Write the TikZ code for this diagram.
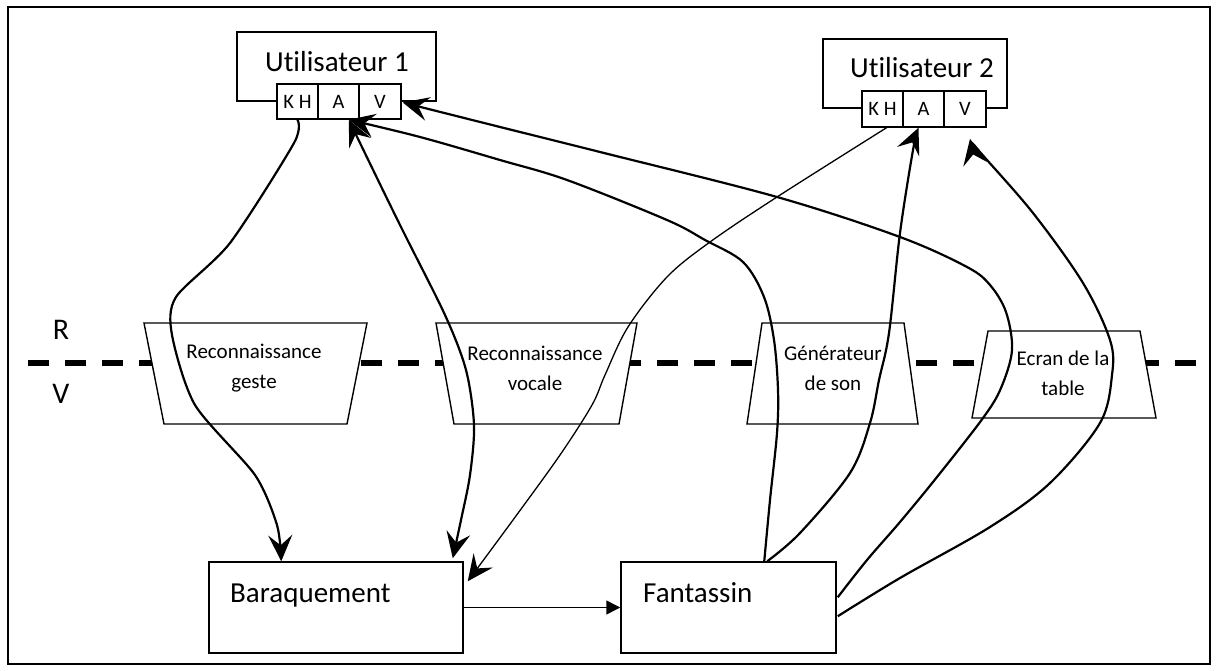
\documentclass[tikz,border=0pt]{standalone}
\usepackage{fontspec}
\setmainfont{Carlito}[Ligatures=NoCommon]
\usetikzlibrary{arrows.meta,calc}
\begin{document}
\begin{tikzpicture}[x=1pt,y=-1pt,
  >={Stealth[length=26pt,width=24pt,inset=10pt]},
  frame/.style={draw,line width=1.6pt},
  ubox/.style={draw,line width=1.5pt,fill=white,inner sep=0pt,minimum height=69pt},
  cell/.style={draw,line width=1.5pt,fill=white,inner sep=0pt,minimum height=35pt,minimum width=41pt,font=\fontsize{20.5}{24}\selectfont},
  bigtext/.style={inner sep=0pt,font=\fontsize{29}{34}\selectfont},
  objbox/.style={draw,line width=1.5pt,fill=white,inner sep=0pt,minimum height=91pt},
  trap/.style={draw,line width=1.4pt,fill=white},
  traptext/.style={inner sep=0pt,align=center,font=\fontsize{21}{30}\selectfont},
  rvline/.style={line width=5.5pt,dash pattern=on 21pt off 16pt},
  rvlabel/.style={inner sep=0pt,font=\fontsize{30}{34}\selectfont},
  link/.style={line width=2.2pt},
  thinlink/.style={line width=1.3pt},
  flow/.style={line width=1.5pt,-{Triangle[length=14pt,width=14pt]}}
]
\useasboundingbox (0,0) rectangle (1218,671);
\draw[frame] (8,7) rectangle (1210,664);

% R / V separation
\coordinate (rvL) at (28,363);
\coordinate (rvR) at (1200,363);
\draw[rvline] (rvL) -- (rvR);
\node[rvlabel] (lblR) at (61,330) {R};
\node[rvlabel] (lblV) at (61,394) {V};

% devices (trapezoids)
\draw[trap] (144,323) -- (367,323) -- (347,424) -- (164,424) -- cycle;
\node[traptext] (t1) at (254,368) {Reconnaissance\\geste};
\draw[trap] (436,323) -- (637,323) -- (619,424) -- (454,424) -- cycle;
\node[traptext] (t2) at (535,368) {Reconnaissance\\vocale};
\draw[trap] (762,323) -- (904,323) -- (918,424) -- (747,424) -- cycle;
\node[traptext] (t3) at (833,368) {Générateur\\de son};
\draw[trap] (988,331) -- (1140,331) -- (1156,418) -- (972,418) -- cycle;
\node[traptext] (t4) at (1063,373) {Ecran de la\\table};

% users
\node[ubox,minimum width=199pt] (u1) at (336.5,66.5) {};
\node[bigtext,anchor=base] (u1t) at (337,72) {Utilisateur 1};
\node[cell] (u1kh) at (297.5,101.5) {K H};
\node[cell] (u1a) at (338.5,101.5) {A};
\node[cell,minimum width=42pt] (u1v) at (380,101.5) {V};

\node[ubox,minimum width=184pt] (u2) at (915,73.5) {};
\node[bigtext,anchor=base] (u2t) at (922,78) {Utilisateur 2};
\node[cell,minimum height=36pt] (u2kh) at (882.5,109) {K H};
\node[cell,minimum height=36pt] (u2a) at (923.5,109) {A};
\node[cell,minimum height=36pt,minimum width=42pt] (u2v) at (965,109) {V};

% virtual objects
\node[objbox,minimum width=254pt] (bar) at (336,607.5) {};
\node[bigtext,anchor=base west] (bart) at (230,602) {Baraquement};
\node[objbox,minimum width=215pt] (fan) at (728.5,607.5) {};
\node[bigtext,anchor=base west] (fant) at (643,602) {Fantassin};

% anchor points
\coordinate (u1aIn) at ($(u1a.south east)+(-11,0)$);
\coordinate (u1vIn) at ($(u1v.east)+(1,1)$);
\coordinate (u2khOut) at ($(u2kh.south)+(4,0)$);
\coordinate (u2aIn) at ($(u2a.south)+(-5,0)$);
\coordinate (u2vIn) at ($(u2v.south)+(5,11)$);
\coordinate (barIn1) at ($(bar.north west)+(73,0)$);
\coordinate (barIn2) at ($(bar.north east)+(-11,-3)$);
\coordinate (barIn3) at ($(bar.north east)+(4,20)$);
\coordinate (fanOut1) at ($(fan.north west)+(144,0)$);
\coordinate (fanOut2) at ($(fan.north west)+(147,0)$);
\coordinate (fanOut3) at ($(fan.north east)+(1,36)$);
\coordinate (fanOut4) at ($(fan.north east)+(1,55)$);

% user 1 gesture -> barracks
\draw[link,->] plot[smooth,tension=0.45] coordinates {(u1kh.south) (294,143) (230,243) (176,297) (172,335) (195,405) (255,475) (277,525) (barIn1)};
% user 1 audio <-> barracks
\draw[link,<->] plot[smooth,tension=0.5] coordinates {(u1aIn) (400,225) (445,315) (466,370) (474,425) (470,475) (461,520) (barIn2)};
% user 2 gesture -> barracks (thin)
\draw[thinlink,->] plot[smooth,tension=0.55] coordinates {(u2khOut) (777,197) (710,242) (667,277) (628,327) (605,375) (592,405) (560,455) (513,520) (barIn3)};
% barracks -> infantry
\draw[flow] (bar.east) -- (fan.west);
% infantry -> user 1 audio
\draw[link,->] plot[smooth,tension=0.55] coordinates {(fanOut1) (770,500) (777,433) (778,390) (774,340) (764,297) (743,262) (705,240) (667,220) (567,180) (500,160) (420,137) (u1aIn)};
% infantry -> user 1 visual
\draw[link,->] plot[smooth,tension=0.55] coordinates {(fanOut3) (867,560) (900,522) (937,477) (983,418) (1001,388) (1012,350) (1006,312) (990,285) (967,267) (900,237) (777,197) (600,152) (500,127) (u1vIn)};
% infantry -> user 2 audio
\draw[link,->] plot[smooth,tension=0.55] coordinates {(fanOut2) (800,533) (850,473) (870,423) (879,380) (889,333) (900,233) (913,150) (u2aIn)};
% infantry -> user 2 visual
\draw[link,->] plot[smooth,tension=0.55] coordinates {(fanOut4) (900,578) (990,527) (1050,483) (1100,423) (1112,375) (1110,340) (1083,283) (1033,213) (980,152) (u2vIn)};
\end{tikzpicture}
\end{document}
